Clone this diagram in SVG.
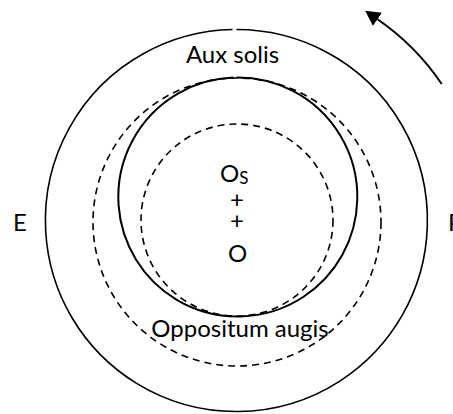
<svg xmlns="http://www.w3.org/2000/svg" width="453" height="414" viewBox="0 0 453 414">
  <style>
    .solid { fill: none; stroke: #000; stroke-width: 1.6; }
    .thick { fill: none; stroke: #000; stroke-width: 2; }
    .dash { fill: none; stroke: #000; stroke-width: 1.6; stroke-dasharray: 7 5; }
    .lbl { font-family: Lato, "Open Sans", "Liberation Sans", sans-serif; font-size: 24px; fill: #000; }
  </style>
  <defs>
    <marker id="ah" markerUnits="userSpaceOnUse" markerWidth="15" markerHeight="16" viewBox="0 0 15 16" refX="0" refY="8" orient="auto">
      <path d="M0,0 L15,8 L0,16 z" fill="#000"/>
    </marker>
  </defs>
  <rect width="453" height="414" fill="#fff"/>
  <g id="outer-circle">
    <path class="solid" d="M 236.5 29.5 A 191 191 0 1 1 232.5 29.54"/>
  </g>
  <g id="eccentric-circle">
    <path class="thick" d="M 236.7 77.51 A 119.5 119.5 0 1 1 233.3 77.59"/>
  </g>
  <g id="large-dashed-circle">
    <circle class="dash" cx="237" cy="222" r="144"/>
  </g>
  <g id="small-dashed-circle">
    <circle class="dash" cx="237" cy="220" r="96"/>
  </g>
  <g id="connectors">
    <path class="thick" d="M 441.7 84 A 246 246 0 0 0 377.5 19.3" marker-end="url(#ah)"/>
  </g>
  <g id="labels">
    <text class="lbl" x="232.5" y="63" text-anchor="middle">Aux solis</text>
    <text class="lbl" x="240" y="337" text-anchor="middle">Oppositum augis</text>
    <text class="lbl" x="13" y="231">E</text>
    <text class="lbl" x="448" y="231">P</text>
    <text class="lbl" x="220" y="182">O<tspan font-size="17" dy="1.5">S</tspan></text>
    <text class="lbl" x="237" y="208" text-anchor="middle">+</text>
    <text class="lbl" x="237" y="229" text-anchor="middle">+</text>
    <text class="lbl" x="237.5" y="262" text-anchor="middle">O</text>
  </g>
</svg>
